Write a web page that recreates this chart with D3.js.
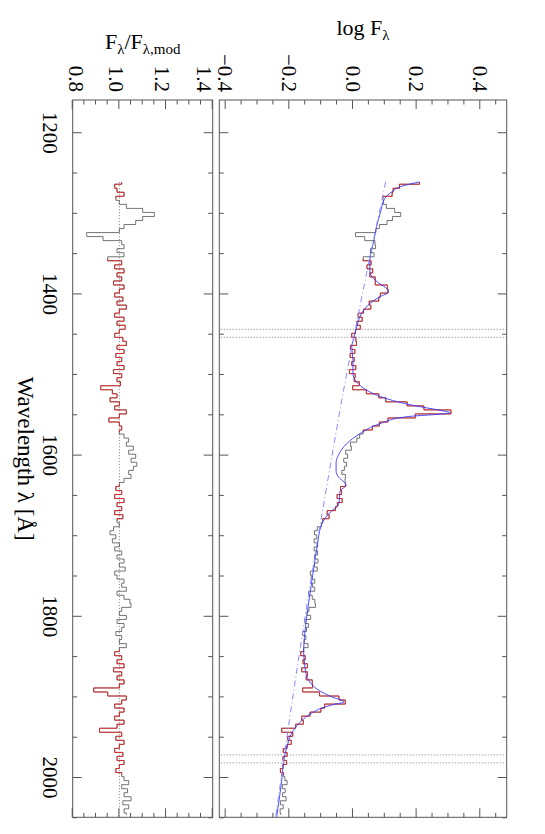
<!DOCTYPE html>
<html><head><meta charset="utf-8">
<script src="https://cdn.jsdelivr.net/npm/d3@7"></script>
<style>body{margin:0;background:#fff}svg{display:block}</style>
</head><body><svg id="c" width="545" height="834"></svg>
<script>
// ---------- data ----------
const waves = [
1262,1267,1272,1277,1282,1287,1292,1297,1302,1307,
1312,1317,1322,1327,1332,1337,1342,1347,1352,1357,
1362,1367,1372,1377,1382,1387,1392,1397,1402,1407,
1412,1417,1422,1427,1432,1437,1442,1447,1452,1457,
1462,1467,1472,1477,1482,1487,1492,1497,1502,1507,
1512,1517,1522,1527,1532,1537,1542,1547,1552,1557,
1562,1567,1572,1577,1582,1587,1592,1597,1602,1607,
1612,1617,1622,1627,1632,1637,1642,1647,1652,1657,
1662,1667,1672,1677,1682,1687,1692,1697,1702,1707,
1712,1717,1722,1727,1732,1737,1742,1747,1752,1757,
1762,1767,1772,1777,1782,1787,1792,1797,1802,1807,
1812,1817,1822,1827,1832,1837,1842,1847,1852,1857,
1862,1867,1872,1877,1882,1887,1892,1897,1902,1907,
1912,1917,1922,1927,1932,1937,1942,1947,1952,1957,
1962,1967,1972,1977,1982,1987,1992,1997,2002,2007,
2012,2017,2022,2027,2032,2037,2042,2047];
const logFlux = [
0.209,0.146,0.126,0.123,0.094,0.096,0.105,0.131,0.150,0.124,
0.107,0.083,0.072,0.008,0.037,0.069,0.071,0.055,0.066,0.032,
0.057,0.044,0.062,0.053,0.070,0.070,0.108,0.110,0.086,0.081,
0.051,0.056,0.033,0.016,0.029,0.012,0.023,0.008,-0.004,0.009,
0.011,-0.008,0.006,-0.009,0.004,-0.004,0.009,-0.011,0.007,0.004,
0.020,-0.001,0.042,0.081,0.103,0.170,0.223,0.308,0.196,0.110,
0.083,0.061,0.032,0.021,0.012,-0.008,-0.005,-0.023,-0.017,-0.029,
-0.020,-0.027,-0.035,-0.024,-0.025,-0.023,-0.039,-0.036,-0.050,-0.034,
-0.049,-0.055,-0.081,-0.075,-0.095,-0.099,-0.112,-0.121,-0.114,-0.122,
-0.111,-0.122,-0.111,-0.121,-0.110,-0.121,-0.112,-0.134,-0.131,-0.120,
-0.127,-0.120,-0.139,-0.128,-0.120,-0.118,-0.138,-0.144,-0.133,-0.151,
-0.140,-0.146,-0.158,-0.148,-0.153,-0.141,-0.155,-0.164,-0.150,-0.157,
-0.143,-0.161,-0.143,-0.147,-0.128,-0.127,-0.158,-0.105,-0.044,-0.024,
-0.089,-0.101,-0.135,-0.161,-0.156,-0.180,-0.224,-0.189,-0.205,-0.194,
-0.207,-0.219,-0.207,-0.220,-0.209,-0.220,-0.228,-0.218,-0.214,-0.207,
-0.222,-0.213,-0.221,-0.210,-0.228,-0.219,-0.229,-0.227];
const ratio = [
1.01,0.98,0.99,1.02,0.985,1.00,1.03,1.10,1.15,1.10,
1.07,1.02,1.00,0.86,0.93,1.01,1.02,0.99,1.02,0.95,
1.01,0.98,1.02,0.99,1.01,0.975,1.02,1.00,0.98,1.015,
0.99,1.03,1.00,0.98,1.02,0.99,1.025,1.00,0.98,1.015,
1.03,0.99,1.02,0.985,1.01,0.99,1.02,0.975,1.01,0.99,
1.005,0.92,0.97,0.99,0.96,1.00,0.98,1.03,1.00,0.955,
1.00,1.01,1.00,1.02,1.04,1.03,1.06,1.04,1.07,1.05,
1.075,1.06,1.04,1.05,1.02,1.00,0.985,1.01,0.98,1.02,
0.99,1.01,0.98,1.015,0.99,1.00,0.975,0.96,0.985,0.97,
1.00,0.98,1.01,0.99,1.02,1.00,1.025,0.98,0.99,1.02,
1.01,1.03,0.99,1.02,1.045,1.05,1.01,1.00,1.03,0.99,
1.02,1.01,0.985,1.01,1.00,1.03,1.00,0.98,1.01,0.99,
1.02,0.975,1.01,0.99,1.02,1.00,0.89,0.95,1.03,1.01,
0.98,1.02,1.00,0.98,1.02,0.99,0.915,1.01,0.985,1.02,
1.00,0.98,1.015,0.99,1.02,1.00,0.985,1.01,1.02,1.04,
1.01,1.035,1.02,1.05,1.015,1.04,1.02,1.03];
const modelWave = [1261.5,1267.7,1274,1282,1300,1317,1334,1359,1372,1380,1387,1394,1398.5,1404,1412.6,1425,1441.6,1458,1466,1483,1499.5,1510,1520,1530.6,1539,1545,1548,1553,1561.6,1574,1586.5,1600,1610,1620,1628,1634,1638,1645,1662,1671,1686,1715,1740,1770,1800,1820,1842,1860,1875,1885,1893,1900,1907,1910,1914,1922,1930,1942.6,1963,1984,2005,2025.6,2050];
const modelFlux = [0.21,0.148,0.122,0.10,0.086,0.074,0.066,0.053,0.053,0.061,0.081,0.106,0.111,0.085,0.053,0.027,0.012,0.001,-0.004,0.0,0.0,0.012,0.043,0.106,0.19,0.273,0.305,0.169,0.085,0.022,-0.02,-0.045,-0.053,-0.053,-0.045,-0.028,-0.022,-0.04,-0.045,-0.07,-0.098,-0.113,-0.123,-0.134,-0.145,-0.151,-0.155,-0.152,-0.145,-0.13,-0.105,-0.07,-0.028,-0.06,-0.095,-0.135,-0.161,-0.188,-0.208,-0.219,-0.224,-0.231,-0.240];
const contWave = [1261.5,1400,1500,1636,1800,1938.6,2050];
const contFlux = [0.103,0.030,-0.020,-0.081,-0.150,-0.203,-0.243];
const fitWindows = [[1260,1285],[1355,1575],[1635,1685],[1840,2000]];
const markerWaves = [1444.5,1454.4,1972.6,1982.5];
const waveTicks = [1200,1400,1600,1800,2000];
const fluxTicks = [-0.4,-0.2,0.0,0.2,0.4];
const ratioTicks = [0.8,1.0,1.2,1.4];

// ---------- layout (drawn landscape, rotated 90deg clockwise) ----------
const W = 545, FONT = "Liberation Serif, 'Times New Roman', serif";
const AX = '#555';
const svg = d3.select('#c');
const g = svg.append('g').attr('transform', `translate(${W},0) rotate(90)`);
const xS = d3.scaleLinear().domain([1160,2050]).range([100,817.3]);
const yM = d3.scaleLinear().domain([-0.42,0.483]).range([325.7,38.3]);
const yR = d3.scaleLinear().domain([0.8,1.4]).range([472.3,332.3]);

const pts = waves.map((w,i)=>({w, f:logFlux[i], r:ratio[i]}));

function styleAxis(sel){
  sel.select('.domain').remove();
  sel.attr('font-family', FONT).attr('font-size', 21);
  sel.selectAll('line').attr('stroke', AX);
  sel.selectAll('text').attr('fill', '#000');
}
const waveMinor = d3.range(1200,2051,50).filter(v=>!waveTicks.includes(v));

function panel(yS, vTop, vBot, major, minor, fmt, showX, shift, id){
  const defs = g.append('defs');
  defs.append('clipPath').attr('id', id).append('rect')
    .attr('x',100).attr('y',vTop).attr('width',717.3).attr('height',vBot-vTop);
  [[d3.axisBottom, vBot],[d3.axisTop, vTop]].forEach(([fn,v],k)=>{
    const a1 = g.append('g').attr('transform',`translate(0,${v})`)
      .call(fn(xS).tickValues(waveTicks).tickSize(-9).tickPadding(14.8)
        .tickFormat((showX && k===0) ? d3.format('d') : ''));
    styleAxis(a1);
    const a2 = g.append('g').attr('transform',`translate(0,${v})`)
      .call(fn(xS).tickValues(waveMinor).tickSize(-4.5).tickFormat(''));
    styleAxis(a2);
  });
  [[d3.axisLeft, 100],[d3.axisRight, 817.3]].forEach(([fn,u],k)=>{
    const a1 = g.append('g').attr('transform',`translate(${u},0)`)
      .call(fn(yS).tickValues(major).tickSize(-9).tickPadding(8)
        .tickFormat(k===0 ? fmt : ''));
    styleAxis(a1);
    if (k===0 && shift) a1.selectAll('.tick text').attr('transform', d=>`translate(0,${shift[d.toFixed(1)]||0})`);
    const a2 = g.append('g').attr('transform',`translate(${u},0)`)
      .call(fn(yS).tickValues(minor).tickSize(-4.5).tickFormat(''));
    styleAxis(a2);
  });
  g.append('rect').attr('x',100).attr('y',vTop).attr('width',717.3).attr('height',vBot-vTop)
    .attr('fill','none').attr('stroke',AX).attr('stroke-width',1);
}

const fluxMinor = d3.range(-0.4,0.46,0.05).filter(v=>!fluxTicks.some(t=>Math.abs(t-v)<1e-6));
const ratioMinor = d3.range(0.85,1.36,0.05).filter(v=>!ratioTicks.some(t=>Math.abs(t-v)<1e-6));
panel(yM, 38.3, 325.7, fluxTicks, fluxMinor, d3.format('.1f'), false, null, 'clipM');
panel(yR, 332.3, 472.3, ratioTicks, ratioMinor, d3.format('.1f'), true,
      {'0.8':-4,'1.0':3,'1.2':3.5,'1.4':8.5}, 'clipR');

const OBS = '#505050', RED = '#e41a1a', SW = 0.8;

// ---------- main panel ----------
const gm = g.append('g').attr('clip-path','url(#clipM)');
markerWaves.forEach(w=>{
  gm.append('line').attr('x1',xS(w)).attr('x2',xS(w)).attr('y1',38.3).attr('y2',325.7)
    .attr('stroke','#777').attr('stroke-width',1).attr('stroke-dasharray','1,2');
});
const lineM = d3.line().x(d=>xS(d.w)).y(d=>yM(d.f)).curve(d3.curveStep);
gm.append('path').datum(pts).attr('d',lineM).attr('fill','none').attr('stroke',OBS).attr('stroke-width',SW);
fitWindows.forEach(([a,b])=>{
  gm.append('path').datum(pts.filter(d=>d.w>=a&&d.w<=b)).attr('d',lineM)
    .attr('fill','none').attr('stroke',RED).attr('stroke-width',SW);
});
const model = modelWave.map((w,i)=>({w, f:modelFlux[i]}));
gm.append('path').datum(model)
  .attr('d', d3.line().x(d=>xS(d.w)).y(d=>yM(d.f)).curve(d3.curveMonotoneX))
  .attr('fill','none').attr('stroke','#3a3aff').attr('stroke-width',0.9);
const cont = contWave.map((w,i)=>({w, f:contFlux[i]}));
gm.append('path').datum(cont)
  .attr('d', d3.line().x(d=>xS(d.w)).y(d=>yM(d.f)).curve(d3.curveMonotoneX))
  .attr('fill','none').attr('stroke','#8888ff').attr('stroke-width',1)
  .attr('stroke-dasharray','6,3,1,3');

// ---------- ratio panel ----------
const gr = g.append('g').attr('clip-path','url(#clipR)');
gr.append('line').attr('x1',xS(waves[0])).attr('x2',xS(2050)).attr('y1',yR(1)).attr('y2',yR(1))
  .attr('stroke','#777').attr('stroke-width',1).attr('stroke-dasharray','1,2');
const lineR = d3.line().x(d=>xS(d.w)).y(d=>yR(d.r)).curve(d3.curveStep);
gr.append('path').datum(pts).attr('d',lineR).attr('fill','none').attr('stroke',OBS).attr('stroke-width',SW);
fitWindows.forEach(([a,b])=>{
  gr.append('path').datum(pts.filter(d=>d.w>=a&&d.w<=b)).attr('d',lineR)
    .attr('fill','none').attr('stroke',RED).attr('stroke-width',SW);
});

// ---------- titles ----------
g.append('text').attr('x',(100+817.3)/2).attr('y',527).attr('text-anchor','middle')
  .attr('font-family',FONT).attr('font-size',23).attr('fill','#000')
  .text('Wavelength λ [Å]');
const t1 = svg.append('text').attr('x',363).attr('y',35).attr('text-anchor','middle')
  .attr('font-family',FONT).attr('font-size',22).attr('fill','#000');
t1.append('tspan').text('log F');
t1.append('tspan').attr('font-size',15).attr('dy',5).text('λ');
const t2 = svg.append('text').attr('x',142.7).attr('y',49).attr('text-anchor','middle')
  .attr('font-family',FONT).attr('font-size',22).attr('fill','#000');
t2.append('tspan').text('F');
t2.append('tspan').attr('font-size',15).attr('dy',5).text('λ');
t2.append('tspan').attr('dy',-5).text('/F');
t2.append('tspan').attr('font-size',15).attr('dy',5).text('λ,mod');
</script></body></html>
